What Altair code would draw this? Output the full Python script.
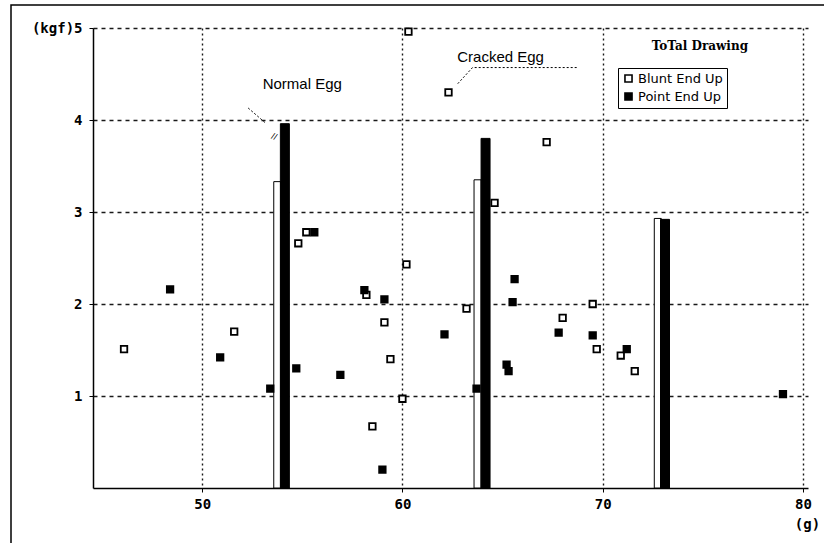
import altair as alt
import pandas as pd

# Blunt End Up (open squares)
blunt_x = [46.1, 51.6, 54.8, 55.2, 60.3, 62.3, 60.2, 58.2, 59.1, 59.4, 60.0, 58.5, 63.2, 64.6, 67.2, 68.0, 69.5, 69.7, 70.9, 71.6]
blunt_y = [1.51, 1.70, 2.66, 2.78, 4.96, 4.30, 2.43, 2.10, 1.80, 1.40, 0.97, 0.67, 1.95, 3.10, 3.76, 1.85, 2.00, 1.51, 1.44, 1.27]
# Point End Up (filled squares)
point_x = [48.4, 50.9, 53.4, 54.7, 55.6, 56.9, 58.1, 59.1, 59.0, 62.1, 63.7, 65.2, 65.3, 65.6, 65.5, 67.8, 69.5, 71.2, 79.0]
point_y = [2.16, 1.42, 1.08, 1.30, 2.78, 1.23, 2.15, 2.05, 0.20, 1.67, 1.08, 1.34, 1.27, 2.27, 2.02, 1.69, 1.66, 1.51, 1.02]
# Totals (bars)
bar_blunt_x = [53.75, 63.75, 72.75]
bar_blunt_h = [3.33, 3.35, 2.93]
bar_point_x = [54.13, 64.15, 73.11]
bar_point_h = [3.96, 3.80, 2.92]

series = ["Blunt End Up", "Point End Up"]
x_ticks = [50, 60, 70, 80]
y_ticks = [1, 2, 3, 4, 5]

# annotations (data coordinates)
ann_text = ["Normal Egg", "Cracked Egg"]
ann_x = [55.0, 64.9]
ann_y = [4.39, 4.68]
normal_line_x = [52.3, 53.15]
normal_line_y = [4.13, 3.97]
cracked_line_x = [68.7, 63.5, 62.7]
cracked_line_y = [4.57, 4.57, 4.38]

pts = pd.DataFrame({
    "x": blunt_x + point_x,
    "y": blunt_y + point_y,
    "series": [series[0]] * len(blunt_x) + [series[1]] * len(point_x),
})
bars_b = pd.DataFrame({"x": bar_blunt_x, "h": bar_blunt_h, "series": series[0]})
bars_p = pd.DataFrame({"x": bar_point_x, "h": bar_point_h, "series": series[1]})
ann = pd.DataFrame({"x": ann_x, "y": ann_y, "t": ann_text})
lines = pd.DataFrame({
    "x": normal_line_x + cracked_line_x,
    "y": normal_line_y + cracked_line_y,
    "seg": ["n"] * 2 + ["c"] * 3,
    "o": list(range(2)) + list(range(3)),
})

xs = alt.Scale(domain=[44.8, 80], nice=False, zero=False)
ys = alt.Scale(domain=[0, 5], nice=False)
fill_scale = alt.Scale(domain=series, range=["white", "black"])

font_ax = "DejaVu Sans Mono"

legend = alt.Legend(
    title=None, orient="none", legendX=525, legendY=40,
    strokeColor="black", fillColor="white", padding=4,
    symbolType="square", symbolSize=50, symbolStrokeColor="black",
    symbolStrokeWidth=1.6, labelFont="DejaVu Sans", labelFontSize=13,
    labelColor="black", rowPadding=3, labelOffset=3)

X = alt.X("x:Q", scale=xs, axis=alt.Axis(
    values=x_ticks, title="(g)", grid=True, gridDash=[2, 3], gridColor="black",
    gridWidth=1.4, gridOpacity=0.9, domainColor="black", domainWidth=1.5,
    tickColor="black", tickSize=4, labelFont=font_ax, labelFontWeight="bold",
    labelFontSize=14, labelColor="black", labelPadding=5, format="d",
    titleFont=font_ax, titleFontWeight="bold", titleFontSize=14, titleColor="black",
    titleX=714, titleY=29, titleAnchor="start", titleAlign="center"))
Y = alt.Y("y:Q", scale=ys, axis=alt.Axis(
    values=y_ticks, title=None, grid=True, gridDash=[4, 4], gridColor="black",
    gridWidth=1.4, gridOpacity=0.9, domainColor="black", domainWidth=1.5,
    tickColor="black", tickSize=4, labelFont=font_ax, labelFontWeight="bold",
    labelFontSize=14, labelColor="black", labelPadding=7, format="d",
    labelExpr="datum.value == 5 ? '(kgf)5' : datum.label"))

bar_b = alt.Chart(bars_b).mark_bar(size=7, stroke="black", strokeWidth=1).encode(
    x=alt.X("x:Q", scale=xs), y=alt.Y("h:Q", scale=ys),
    fill=alt.Fill("series:N", scale=fill_scale, legend=legend))
bar_p = alt.Chart(bars_p).mark_bar(size=9, stroke="black", strokeWidth=1).encode(
    x=alt.X("x:Q", scale=xs), y=alt.Y("h:Q", scale=ys),
    fill=alt.Fill("series:N", scale=fill_scale, legend=legend))

points = alt.Chart(pts).mark_point(shape="square", size=42, stroke="black",
                                   strokeWidth=1.8, opacity=1, filled=False).encode(
    x=alt.X("x:Q", scale=xs), y=alt.Y("y:Q", scale=ys),
    fill=alt.Fill("series:N", scale=fill_scale, legend=legend),
    fillOpacity=alt.value(1))

leaders = alt.Chart(lines).mark_line(color="black", strokeWidth=1, strokeDash=[2, 2]).encode(
    x=alt.X("x:Q", scale=xs), y=alt.Y("y:Q", scale=ys), detail="seg:N", order="o:Q")

labels = alt.Chart(ann).mark_text(font="Liberation Sans", fontSize=15, color="black").encode(
    x=alt.X("x:Q", scale=xs), y=alt.Y("y:Q", scale=ys), text="t:N")

marks = alt.Chart(pd.DataFrame({"x": [53.6], "y": [3.82], "t": ["//"]})).mark_text(
    font="Liberation Sans", fontSize=9, color="black", angle=20).encode(
    x=alt.X("x:Q", scale=xs), y=alt.Y("y:Q", scale=ys), text="t:N")

title_txt = alt.Chart(pd.DataFrame({"x": [74.85], "y": [4.8], "t": ["ToTal Drawing"]})).mark_text(
    font="DejaVu Serif", fontWeight="bold", fontSize=12, color="black").encode(
    x=alt.X("x:Q", scale=xs), y=alt.Y("y:Q", scale=ys), text="t:N")

frame = alt.Chart(pd.DataFrame({"a": [0]})).mark_rect(fill=None, stroke="black", strokeWidth=1.5).encode(
    x=alt.value(-82), x2=alt.value(740), y=alt.value(-23), y2=alt.value(530))

base = alt.Chart(pts).mark_point(opacity=0).encode(x=X, y=Y)

chart = alt.layer(base, frame, bar_b, bar_p, points, leaders, labels, marks, title_txt).properties(
    width=715, height=460,
    autosize=alt.AutoSizeParams(type="none"),
    padding={"left": 93, "top": 28, "right": 16, "bottom": 55},
    background="white",
).configure_view(stroke=None)

chart.save("out.html", embed_options={"renderer": "svg", "actions": False})
